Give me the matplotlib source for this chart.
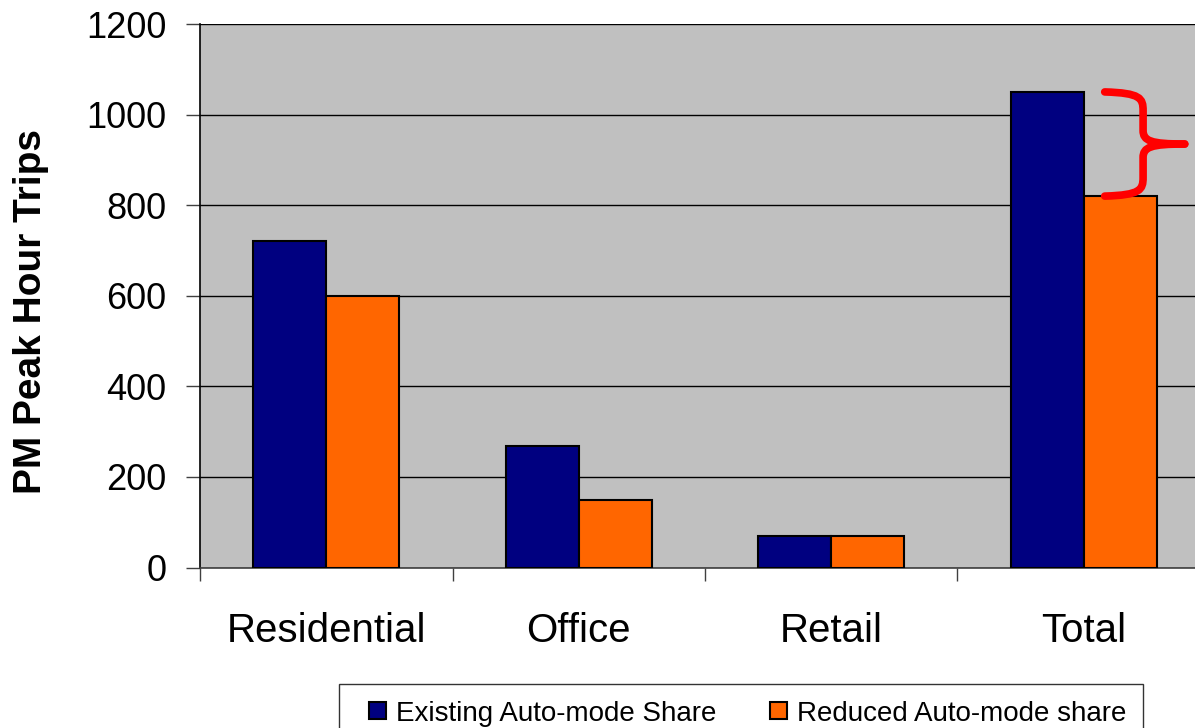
import matplotlib
matplotlib.use("Agg")
import matplotlib.pyplot as plt
import numpy as np
from matplotlib.path import Path
from matplotlib.patches import PathPatch, Rectangle
from matplotlib.legend_handler import HandlerPatch

plt.rcParams['font.family'] = ['Liberation Sans', 'DejaVu Sans']

categories = ["Residential", "Office", "Retail", "Total"]
existing = [720, 268, 70, 1050]
reduced = [600, 150, 70, 820]
series_names = ["Existing Auto-mode Share", "Reduced Auto-mode share"]
y_ticks = [0, 200, 400, 600, 800, 1000, 1200]

navy = "#000080"
orange = "#FF6600"
plot_bg = "#C0C0C0"

W, H = 1195, 728
fig = plt.figure(figsize=(W / 100, H / 100), dpi=100)
fig.patch.set_facecolor("white")

# plot area in pixels: left 200, top 24, bottom 567.5, category width 252.5
left, top, bottom, cat_w = 200, 24, 567.5, 252.5
ax = fig.add_axes([left / W, 1 - bottom / H, 4 * cat_w / W, (bottom - top) / H])
ax.set_facecolor(plot_bg)

x = np.arange(len(categories))
bw = 0.29
bars_a = ax.bar(x - bw / 2, existing, bw, color=navy, edgecolor="black",
                linewidth=1.5, label=series_names[0], zorder=3)
bars_b = ax.bar(x + bw / 2, reduced, bw, color=orange, edgecolor="black",
                linewidth=1.5, label=series_names[1], zorder=3)

ax.set_xlim(-0.5, len(categories) - 0.5)
ax.set_ylim(0, 1200)
ax.set_yticks(y_ticks)
ax.yaxis.grid(True, color="black", linewidth=1.0, zorder=1)
ax.set_axisbelow(True)

ax.tick_params(axis="y", direction="out", length=10, width=1, pad=14,
               labelsize=26, color="#404040")
ax.set_xticks(x)
ax.set_xticklabels(categories)
ax.tick_params(axis="x", which="major", length=0, pad=32, labelsize=29)
ax.set_xticks(np.arange(len(categories)) - 0.5, minor=True)
ax.tick_params(axis="x", which="minor", direction="out", length=9, width=1,
               color="#404040")

for s in ["top", "right"]:
    ax.spines[s].set_visible(False)
ax.spines["left"].set_color("black")
ax.spines["left"].set_linewidth(1.2)
ax.spines["bottom"].set_color("#404040")
ax.spines["bottom"].set_linewidth(1.2)

fig.text(31 / W, 1 - 311 / H, "PM Peak Hour Trips", rotation=90,
         fontsize=28, fontweight="bold", ha="center", va="center")

# red brace spanning the drop in total trips
i = len(categories) - 1
hi, lo = existing[i], reduced[i]
mid = (hi + lo) / 2
x0, xv, xt = i + 0.083, i + 0.235, i + 0.40
span = hi - lo


def half_brace(end, sign):
    # sign=+1 for the upper half (going down), -1 for the lower half
    return Path(
        [(x0, end), (xv - 0.01, end - sign * 0.01 * span),
         (xv, end - sign * 0.06 * span), (xv, end - sign * 0.18 * span),
         (xv, mid + sign * 0.13 * span),
         (xv, mid + sign * 0.03 * span), (xv + 0.03, mid), (xt, mid)],
        [Path.MOVETO, Path.CURVE4, Path.CURVE4, Path.CURVE4,
         Path.LINETO,
         Path.CURVE4, Path.CURVE4, Path.CURVE4])


for p in (half_brace(hi, 1), half_brace(lo, -1)):
    ax.add_patch(PathPatch(p, facecolor="none", edgecolor="#FF0000",
                           linewidth=5.5, capstyle="round", joinstyle="round",
                           zorder=5, clip_on=False))


def square_handle(legend, orig_handle, xdescent, ydescent, width, height,
                  fontsize):
    s = 12.2
    return Rectangle((-xdescent + width - s, -ydescent + (height - s) / 2), s, s)


handler = HandlerPatch(patch_func=square_handle)
handles = [bars_a.patches[0], bars_b.patches[0]]
leg = fig.legend(handles, series_names, loc="upper left",
                 bbox_to_anchor=(339 / W, 1 - 684 / H),
                 ncol=2, fontsize=20, frameon=True, fancybox=False,
                 edgecolor="black", handlelength=1.1, handleheight=0.7,
                 handletextpad=0.36, columnspacing=1.44, borderpad=0.6,
                 borderaxespad=0,
                 handler_map={h: handler for h in handles})
leg.get_frame().set_linewidth(1.0)

fig.savefig("out.png", dpi=100, facecolor="white")
